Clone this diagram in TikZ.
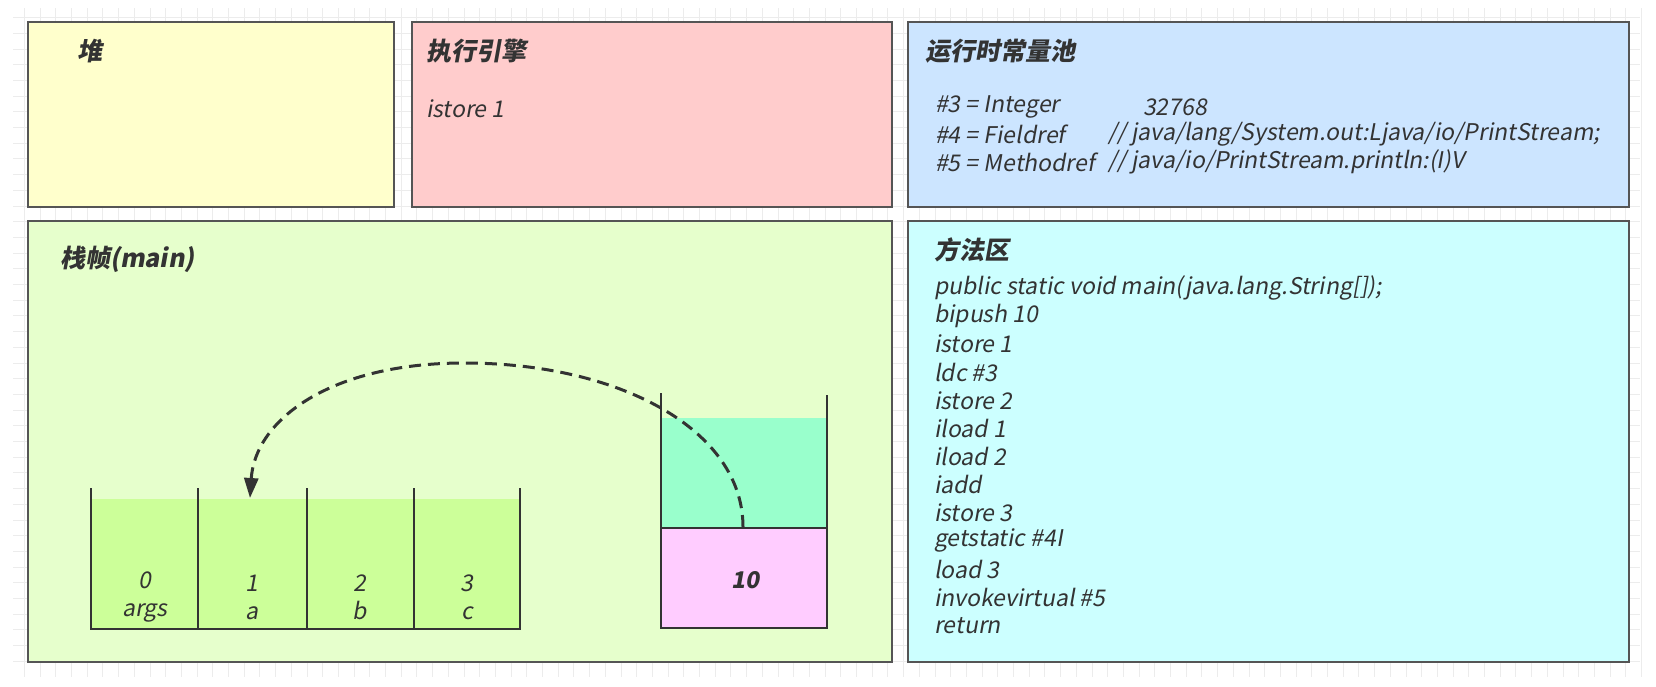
\documentclass[tikz,border=0pt]{standalone}
\usepackage{fontspec}
\setmainfont{Noto Sans CJK SC}[FakeSlant=0.18]
\usetikzlibrary{arrows.meta}
\definecolor{txt}{HTML}{333333}
\definecolor{edge}{HTML}{555555}
\definecolor{heapc}{HTML}{FFFFCC}
\definecolor{execc}{HTML}{FFCCCC}
\definecolor{poolc}{HTML}{CCE5FF}
\definecolor{stackc}{HTML}{E6FFCC}
\definecolor{methc}{HTML}{CCFFFF}
\definecolor{lvc}{HTML}{CCFF99}
\definecolor{opc}{HTML}{99FFCC}
\definecolor{pinkc}{HTML}{FFCCFF}
\definecolor{gridc}{HTML}{ECECEC}
\tikzset{
  region/.style={draw=edge, line width=1.5pt},
  ttl/.style={anchor=west, inner sep=0pt, font=\fontsize{25}{28}\selectfont\bfseries, text=txt},
  line/.style={anchor=west, inner sep=0pt, font=\fontsize{23}{28}\selectfont, text=txt},
  cell/.style={inner sep=0pt, font=\fontsize{23}{28}\selectfont, text=txt, align=center},
  wall/.style={draw=txt, line width=2.6pt},
  flow/.style={draw=txt, line width=3pt, dash pattern=on 12pt off 7pt, -{Triangle[length=20pt,width=14pt]}},
}
\begin{document}
\begin{tikzpicture}[x=1pt,y=-1pt]
\useasboundingbox (0,0) rectangle (1656,686);
\fill[white] (0,0) rectangle (1656,686);
% grid
\foreach \i in {0,...,103} {\draw[gridc, line width=0.8pt] ({24.3+15.7*\i},8) -- ({24.3+15.7*\i},677);}
\foreach \j in {0,...,41} {\draw[gridc, line width=0.8pt] (13,{17.5+15.7*\j}) -- (1640,{17.5+15.7*\j});}
% regions
\node[region, fill=heapc, minimum width=366pt, minimum height=185pt, anchor=north west, inner sep=0pt] (heap) at (27,21) {};
\node[region, fill=execc, minimum width=480pt, minimum height=185pt, anchor=north west, inner sep=0pt] (exec) at (411,21) {};
\node[region, fill=poolc, minimum width=721pt, minimum height=185pt, anchor=north west, inner sep=0pt] (pool) at (907,21) {};
\node[region, fill=stackc, minimum width=864pt, minimum height=441pt, anchor=north west, inner sep=0pt] (stack) at (27,220) {};
\node[region, fill=methc, minimum width=721pt, minimum height=441pt, anchor=north west, inner sep=0pt] (meth) at (907,220) {};
% titles
\node[ttl] (theap) at (77,51) {堆};
\node[ttl] (texec) at (426,51) {执行引擎};
\node[ttl] (tpool) at (925,51) {运行时常量池};
\node[ttl] (tstack) at (60,259) {栈帧(main)};
\node[ttl] (tmeth) at (934,250) {方法区};
% exec
\node[line] (e1) at (426,109) {istore 1};
% pool
\node[line] (p1) at (935,107) {\#3 = Integer};
\node[line] (p1b) at (1143,107) {32768};
\node[line] (p2) at (935,134) {\#4 = Fieldref};
\node[line] (p2b) at (1108,134) {// java/lang/System.out:Ljava/io/PrintStream;};
\node[line] (p3) at (935,162) {\#5 = Methodref};
\node[line] (p3b) at (1108,162) {// java/io/PrintStream.println:(I)V};
% method area
\foreach \t [count=\k from 0] in {public static void main(java.lang.String[]);,bipush 10,istore 1,ldc \#3,istore 2,iload 1,iload 2,iadd,istore 3,getstatic \#4I,load 3,invokevirtual \#5,return}
  {\node[line] (m\k) at (934,{288+28.1*\k}) {\t};}
% local variable table
\fill[lvc] (91,499) rectangle (520,629);
\draw[wall] (91,488) -- (91,629) -- (520,629) -- (520,488);
\foreach \x in {198,307,414} {\draw[wall] (\x,488) -- (\x,629);}
\node[cell] (c0) at (145,597) {0\\args};
\node[cell] (c1) at (252,597) {1\\a};
\node[cell] (c2) at (360,597) {2\\b};
\node[cell] (c3) at (467,597) {3\\c};
\coordinate (dst) at (250,498);
% operand stack
\fill[opc] (661,418) rectangle (827,528);
\fill[pinkc] (661,528) rectangle (827,628);
\draw[draw=txt, line width=1.5pt] (661,528) -- (827,528);
\draw[wall] (661,393) -- (661,628) -- (827,628) -- (827,395);
\node[cell, font=\fontsize{23}{28}\selectfont\bfseries] (ten) at (745,580) {10};
\coordinate (src) at (743,527);
% arrow
\draw[flow] (src) .. controls (743,430) and (620,363) .. (464,363) .. controls (330,363) and (255,420) .. (dst);
\end{tikzpicture}
\end{document}
